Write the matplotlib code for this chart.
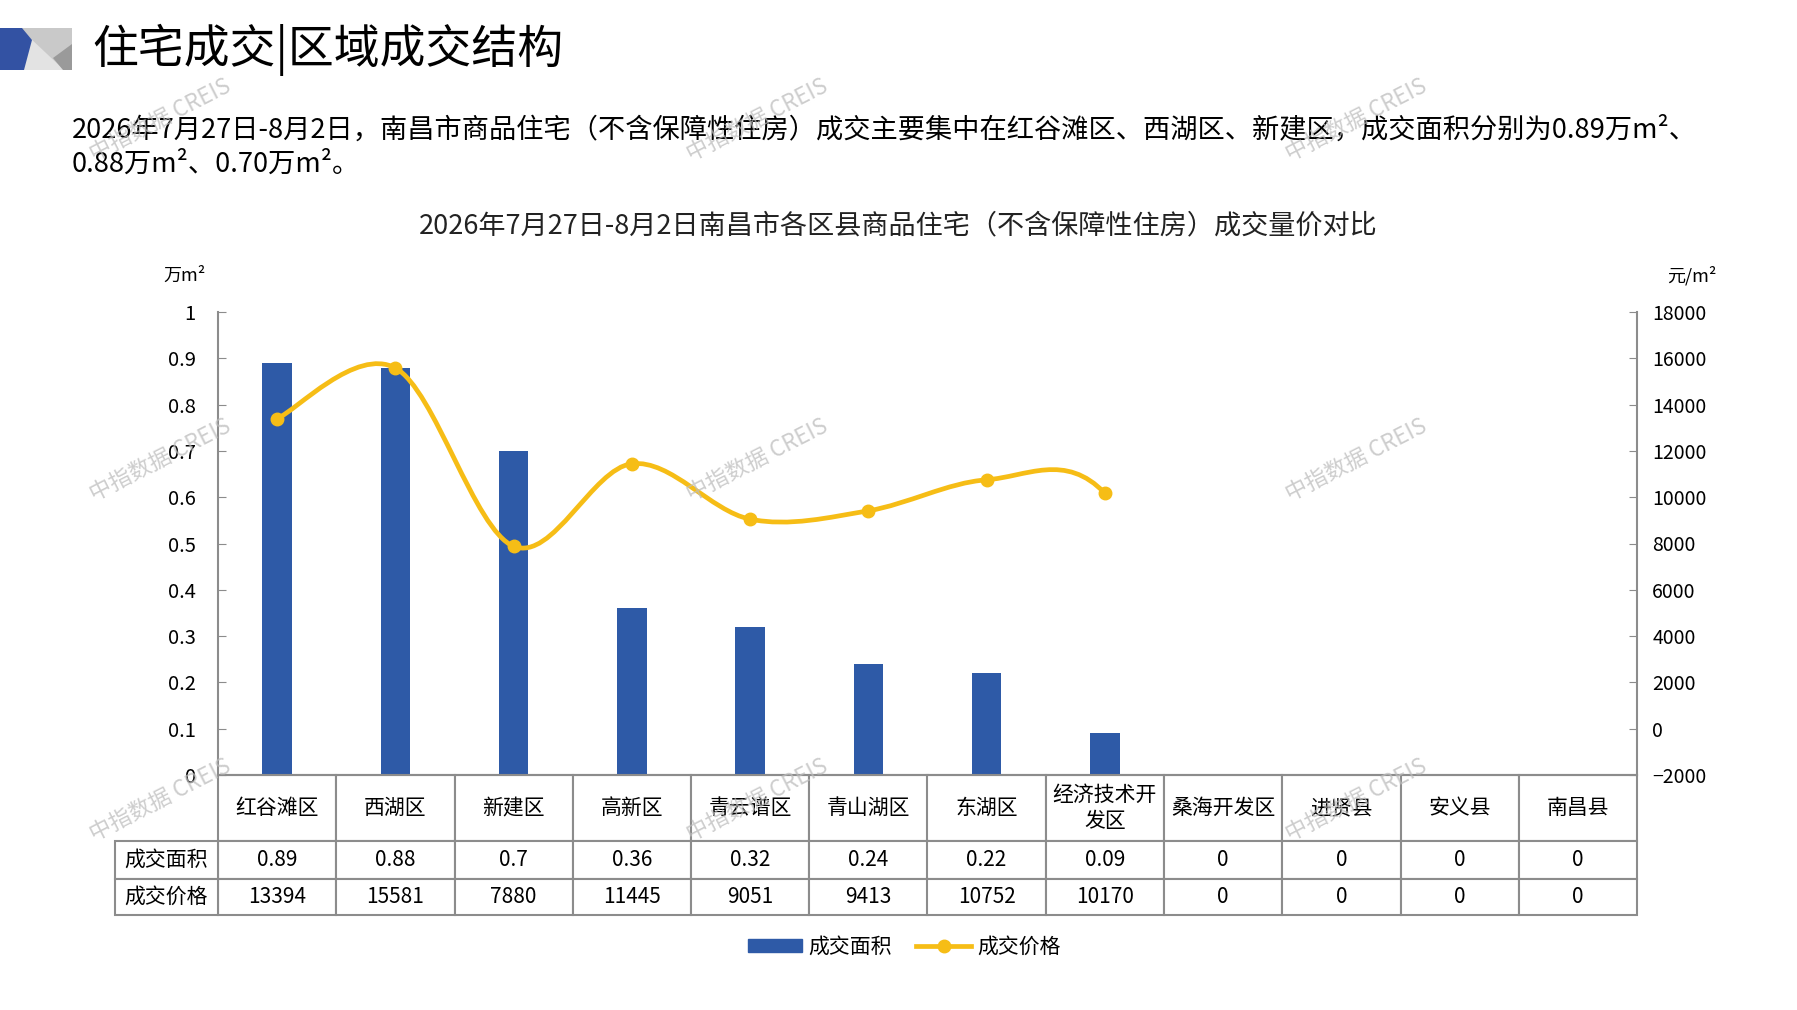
import matplotlib
matplotlib.use("Agg")
import matplotlib.pyplot as plt
from matplotlib.patches import Polygon, Patch
from matplotlib.lines import Line2D
from matplotlib.path import Path
from matplotlib.patches import PathPatch
from matplotlib.ticker import FuncFormatter

plt.rcParams['font.family'] = ['Noto Sans CJK SC', 'DejaVu Sans']

# -------------------------------
# Data
# -------------------------------
districts = ["红谷滩区", "西湖区", "新建区", "高新区", "青云谱区", "青山湖区",
             "东湖区", "经济技术开\n发区", "桑海开发区", "进贤县", "安义县", "南昌县"]
area = [0.89, 0.88, 0.7, 0.36, 0.32, 0.24, 0.22, 0.09, 0, 0, 0, 0]
price = [13394, 15581, 7880, 11445, 9051, 9413, 10752, 10170, 0, 0, 0, 0]
n_line = 8  # price line drawn only for districts with deals

row_labels = ["成交面积", "成交价格"]
area_ticks = [0, 0.1, 0.2, 0.3, 0.4, 0.5, 0.6, 0.7, 0.8, 0.9, 1]
price_ticks = [-2000, 0, 2000, 4000, 6000, 8000, 10000, 12000, 14000, 16000, 18000]

title = "住宅成交|区域成交结构"
para1 = "2026年7月27日-8月2日，南昌市商品住宅（不含保障性住房）成交主要集中在红谷滩区、西湖区、新建区，成交面积分别为0.89万m²、"
para2 = "0.88万m²、0.70万m²。"
chart_title = "2026年7月27日-8月2日南昌市各区县商品住宅（不含保障性住房）成交量价对比"

BLUE = "#2E5AA7"
GOLD = "#F6BD16"
GRID = "#8C8C8C"

W, H = 1797, 1010
fig = plt.figure(figsize=(W / 100, H / 100), dpi=100)

# background axes in pixel coordinates for header decorations
bg = fig.add_axes([0, 0, 1, 1])
bg.set_xlim(0, W)
bg.set_ylim(H, 0)
bg.axis("off")
bg.set_zorder(-1)
bg.add_patch(Polygon([(22, 28), (72, 28), (72, 70), (22, 70)], closed=True, color="#C9C9C9", lw=0))
bg.add_patch(Polygon([(28, 36), (22, 70), (64, 70)], closed=True, color="#E3E3E3", lw=0))
bg.add_patch(Polygon([(72, 44), (53, 58), (63, 70), (72, 70)], closed=True, color="#9A9A9A", lw=0))
bg.add_patch(Polygon([(0, 28), (22, 28), (32, 40), (24, 70), (0, 70)], closed=True, color="#3352A3", lw=0))

bg.text(92, 50, title, fontsize=33, va="center", ha="left")
bg.text(72, 130, para1, fontsize=19.6, va="center", ha="left")
bg.text(72, 164, para2, fontsize=19.6, va="center", ha="left")
bg.text(898, 226, chart_title, fontsize=19.5, va="center", ha="center", color="#222222")
bg.text(184, 276, "万m²", fontsize=13, va="center", ha="center")
bg.text(1692, 276, "元/m²", fontsize=13, va="center", ha="center")

# -------------------------------
# Main chart
# -------------------------------
L, R, T, B = 218, 1637, 312, 775
ax = fig.add_axes([L / W, (H - B) / H, (R - L) / W, (B - T) / H])
x = list(range(len(districts)))
ax.bar(x, area, width=0.25, color=BLUE, zorder=2)
ax.set_xlim(-0.5, len(districts) - 0.5)
ax.set_ylim(0, 1)
ax.set_yticks(area_ticks)
ax.yaxis.set_major_formatter(FuncFormatter(lambda v, p: "%g" % v))
ax.set_xticks([])
for s in ["top", "right"]:
    ax.spines[s].set_visible(False)
for s in ["left", "bottom"]:
    ax.spines[s].set_color(GRID)
    ax.spines[s].set_linewidth(1.5)
ax.tick_params(axis="y", direction="in", length=6, color=GRID, labelsize=14.5, pad=16)

ax2 = ax.twinx()
ax2.set_ylim(-2000, 18000)
ax2.set_yticks(price_ticks)
for s in ["top", "left", "bottom"]:
    ax2.spines[s].set_visible(False)
ax2.spines["right"].set_color(GRID)
ax2.spines["right"].set_linewidth(1.5)
ax2.tick_params(axis="y", direction="in", length=6, color=GRID, labelsize=14, pad=11)

# smoothed price line (Catmull-Rom style bezier, like office "smooth line")
pts = list(zip(x, price))
def tangent(i):
    p_prev = pts[i - 1] if i > 0 else pts[i]
    p_next = pts[i + 1] if i + 1 < len(pts) else pts[i]
    return ((p_next[0] - p_prev[0]) / 2.0, (p_next[1] - p_prev[1]) / 2.0)

verts = [pts[0]]
codes = [Path.MOVETO]
for i in range(n_line - 1):
    m0 = tangent(i)
    m1 = tangent(i + 1)
    verts += [(pts[i][0] + m0[0] / 3, pts[i][1] + m0[1] / 3),
              (pts[i + 1][0] - m1[0] / 3, pts[i + 1][1] - m1[1] / 3),
              pts[i + 1]]
    codes += [Path.CURVE4] * 3
ax2.add_patch(PathPatch(Path(verts, codes), facecolor="none", edgecolor=GOLD, lw=3.4,
                        capstyle="round", zorder=3))
ax2.plot(x[:n_line], price[:n_line], "o", color=GOLD, markersize=9, zorder=4)

# -------------------------------
# Data table under the chart
# -------------------------------
area_txt = ["%g" % v for v in area]
price_txt = [str(v) for v in price]
hdr_h, r1_h, r2_h = 66, 38, 36
tot = (hdr_h + r1_h + r2_h) / (B - T)
tbl = ax.table(cellText=[area_txt, price_txt], colLabels=districts, cellLoc="center",
               bbox=[0, -tot, 1, tot])
tbl.auto_set_font_size(False)
tbl.set_fontsize(15)
for (r, c), cell in tbl.get_celld().items():
    cell.set_edgecolor(GRID)
    cell.set_linewidth(1.5)
    cell.set_height([hdr_h, r1_h, r2_h][r])

lbl_w = (L - 115) / (R - L)
lbl_h = (r1_h + r2_h) / (B - T)
tbl2 = ax.table(cellText=[[row_labels[0]], [row_labels[1]]], cellLoc="center",
                bbox=[-lbl_w, -tot, lbl_w, lbl_h])
tbl2.auto_set_font_size(False)
tbl2.set_fontsize(15)
for (r, c), cell in tbl2.get_celld().items():
    cell.set_edgecolor(GRID)
    cell.set_linewidth(1.5)
    cell.set_height([r1_h, r2_h][r])

# -------------------------------
# Legend
# -------------------------------
handles = [Patch(color=BLUE),
           Line2D([], [], color=GOLD, lw=3.4, marker="o", markersize=9)]
fig.legend(handles, ["成交面积", "成交价格"], loc="center", ncol=2, frameon=False,
           bbox_to_anchor=(904 / W, 1 - 947 / H), fontsize=15, handlelength=2.6,
           handleheight=0.6, columnspacing=1.2, handletextpad=0.3)

# watermarks
for wx in [160, 757, 1356]:
    for wy in [120, 460, 800]:
        fig.text(wx / W, 1 - wy / H, "中指数据 CREIS", fontsize=16, color="#BDBDBD",
                 alpha=0.75, rotation=27, ha="center", va="center", zorder=10)

fig.savefig("out.png", dpi=100)
